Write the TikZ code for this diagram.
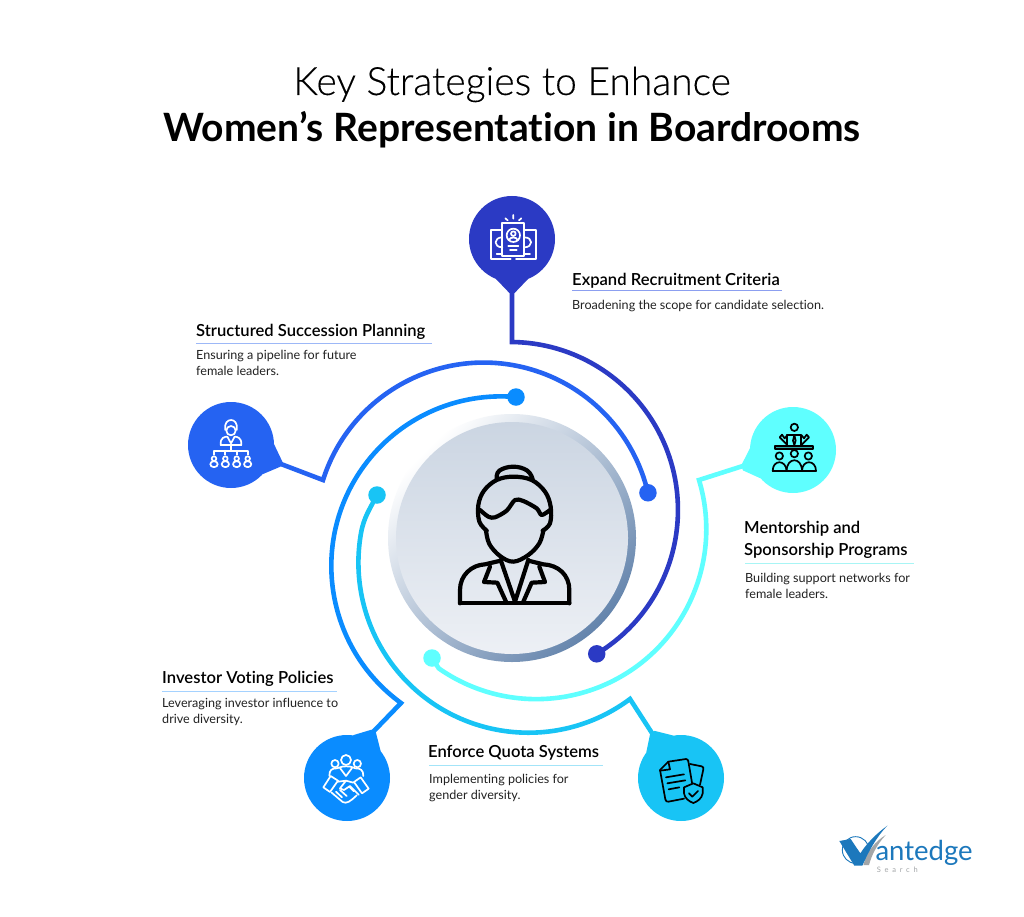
\documentclass[tikz,border=0pt]{standalone}
\usepackage{fontspec}
\setmainfont{Lato}[Ligatures=NoCommon]
\newfontfamily\titlelight{Lato Light}[Ligatures=NoCommon,FakeBold=0.25]
\newfontfamily\headfont{Lato Semibold}[Ligatures=NoCommon]
\usetikzlibrary{calc}
\definecolor{cA}{HTML}{2B3AC4}
\definecolor{cB}{HTML}{2563F2}
\definecolor{cC}{HTML}{0A8CFF}
\definecolor{cD}{HTML}{18C4F5}
\definecolor{cE}{HTML}{5FFFFF}
\definecolor{logoblue}{HTML}{1C78BC}
\definecolor{logogray}{HTML}{A3A6A8}
\definecolor{bodyink}{HTML}{222222}
\definecolor{ringdark}{HTML}{6484AC}
\definecolor{discTop}{HTML}{CBD5E2}
\definecolor{discBot}{HTML}{EDF0F5}
\definecolor{tealdark}{HTML}{2FA8A8}
\definecolor{ruleA}{HTML}{8C9FF0}
\definecolor{ruleB}{HTML}{9DB8F7}
\definecolor{ruleC}{HTML}{A5D2FF}
\definecolor{ruleD}{HTML}{A3E4F8}
\definecolor{ruleE}{HTML}{A8F5F5}
\tikzset{
 x=1pt,y=1pt,
 pinball/.style={circle,minimum size=86pt,inner sep=0pt,outer sep=0pt,fill=#1},
 dotball/.style={circle,minimum size=17.5pt,inner sep=0pt,outer sep=0pt,fill=#1},
 wire/.style={draw=#1,line width=4.6pt,line join=miter},
 headtext/.style={anchor=base west,inner sep=0pt,font=\headfont\fontsize{16.6}{18}\selectfont,text=black},
 bodytext/.style={anchor=base west,inner sep=0pt,font=\fontsize{12.6}{14}\selectfont,text=bodyink},
 headrule/.style={draw=#1,line width=1pt},
 ico/.style={draw=#1,line width=1.7pt,line cap=round,line join=round,fill=none},
 zoomframe/.style={x=0.33333pt,y=-0.33333pt},
}
\newcommand{\neckshape}[4]{\fill[#4,shift={(#1,-#2)},rotate=#3] (40,-16) -- (54,-2.6) -- (54,2.6) -- (40,16) -- cycle;}
\begin{document}
\begin{tikzpicture}
\useasboundingbox (0,0) rectangle (1024,-917);
\fill[white] (0,0) rectangle (1024,-917);
% titles
\node[anchor=base,inner sep=0pt,font=\titlelight\fontsize{39}{42}\selectfont] (t1) at (512,-95) {Key Strategies to Enhance};
\node[anchor=base,inner sep=0pt,font=\bfseries\fontsize{39}{42}\selectfont] (t2) at (512,-142) {Women’s Representation in Boardrooms};
% pins
\node[pinball=cA] (pA) at (512,-239) {};
\node[pinball=cB] (pB) at (231,-445) {};
\node[pinball=cE] (pE) at (793,-450) {};
\node[pinball=cC] (pC) at (347,-778) {};
\node[pinball=cD] (pD) at (681,-778) {};
\neckshape{512}{239}{-90}{cA}
\neckshape{231}{445}{-20.8}{cB}
\neckshape{793}{450}{-160.6}{cE}
\neckshape{347}{778}{60.5}{cC}
\neckshape{681}{778}{122}{cD}
% centre disc
\node[circle,minimum size=248pt,inner sep=0pt,outer sep=0pt,shade,top color=white,bottom color=ringdark,shading angle=45] (ring) at (512,-538) {};
\node[circle,minimum size=232pt,inner sep=0pt,outer sep=0pt,shade,top color=discTop,bottom color=discBot] (disc) at (512,-538) {};
% elbows
\coordinate (eA) at (512,-342);
\coordinate (eB) at (323,-480);
\coordinate (eC) at (401,-703);
\coordinate (tC) at (373,-732);
\coordinate (eD) at (630,-699);
\coordinate (eE) at (699,-480);
\coordinate (dD) at (377,-495);
\coordinate (dE) at (432,-658);
% connectors
\draw[wire=cA] (pA.center) -- (eA) arc[start angle=89.3,end angle=-58.9,radius=168] coordinate (dA);
\draw[wire=cB] (pB.center) -- (eB) arc[start angle=162.3,end angle=13.2,radius=168.7] coordinate (dB);
\draw[wire=cC] (pC.center) -- (tC) -- (eC) arc[start angle=233.9,end angle=84.9,radius=169.6] coordinate (dC);
\draw[wire=cD] (pD.center) -- (eD) arc[start angle=-53.3,end angle=-190,radius=170] to[out=80,in=243] (dD);
\draw[wire=cE] (pE.center) -- (eE) arc[start angle=16.8,end angle=-125,radius=170] -- (dE);
\node[dotball=cA] (nA) at (dA) {};
\node[dotball=cB] (nB) at (dB) {};
\node[dotball=cC] (nC) at (dC) {};
\node[dotball=cD] (nD) at (dD) {};
\node[dotball=cE] (nE) at (dE) {};
% labels
\node[headtext] (hA) at (572,-285) {Expand Recruitment Criteria};
\draw[headrule=ruleA] (572,-290.5) -- (782,-290.5);
\node[bodytext] (bA) at (572,-309.5) {Broadening the scope for candidate selection.};
\node[headtext] (hB) at (196,-336) {Structured Succession Planning};
\draw[headrule=ruleB] (196,-343.5) -- (432,-343.5);
\node[bodytext] (bB1) at (196,-359) {Ensuring a pipeline for future};
\node[bodytext] (bB2) at (196,-375) {female leaders.};
\node[headtext] (hE1) at (744,-533) {Mentorship and};
\node[headtext] (hE2) at (744,-555) {Sponsorship Programs};
\draw[headrule=ruleE] (745,-563.5) -- (914,-563.5);
\node[bodytext] (bE1) at (745,-582.5) {Building support networks for};
\node[bodytext] (bE2) at (745,-598.5) {female leaders.};
\node[headtext] (hC) at (162,-683) {Investor Voting Policies};
\draw[headrule=ruleC] (162,-691.5) -- (337,-691.5);
\node[bodytext] (bC1) at (162,-707.5) {Leveraging investor influence to};
\node[bodytext] (bC2) at (162,-723.5) {drive diversity.};
\node[headtext] (hD) at (428,-757) {Enforce Quota Systems};
\draw[headrule=ruleD] (429,-765.5) -- (603,-765.5);
\node[bodytext] (bD1) at (429,-783.5) {Implementing policies for};
\node[bodytext] (bD2) at (429,-799.5) {gender diversity.};
% central person
\begin{scope}[shift={(380,-400)},zoomframe,line width=4.2pt,line cap=round,line join=round]
\draw plot[smooth,tension=0.6] coordinates {(320,392)(298,365)(295,315)(312,272)(350,240)(400,230)(455,240)(495,275)(512,320)(510,370)(488,392)};
\draw plot[smooth,tension=0.7] coordinates {(350,236)(358,212)(400,200)(442,212)(458,238)};
\draw plot[smooth,tension=0.5] coordinates {(300,330)(325,350)(345,352)(380,332)(405,300)(430,303)(470,325)(485,345)(510,330)};
\draw plot[smooth,tension=0.6] coordinates {(318,392)(328,432)(360,468)(400,485)(445,465)(478,430)(490,392)};
\draw (240,610) -- (240,570) .. controls (240,525) and (275,495) .. (315,493) -- (362,482);
\draw (568,610) -- (568,570) .. controls (568,525) and (535,495) .. (490,493) -- (445,482);
\draw (240,610) -- (568,610);
\draw (330,500) -- (312,546) -- (352,548) -- (378,605);
\draw (478,500) -- (495,546) -- (455,548) -- (430,605);
\draw (362,480) -- (405,605) -- (445,480);
\end{scope}
% icon: recruitment
\begin{scope}[shift={(380,-180)},zoomframe]
\draw[ico=white] (367,130) -- (433,130) -- (433,228) -- (367,228) -- cycle;
\draw[ico=white] (367,150) -- (333,150) -- (333,238) -- (392,238);
\draw[ico=white] (433,150) -- (468,150) -- (468,238) -- (408,238);
\draw[ico=white] (400,166) circle[radius=20];
\draw[ico=white] (400,161) circle[radius=7];
\draw[ico=white] (387,180) .. controls (390,170) and (410,170) .. (413,180);
\draw[ico=white] (385,198) -- (415,198) (390,210) -- (410,210);
\draw[ico=white] (367,172) .. controls (340,172) and (340,202) .. (367,202);
\draw[ico=white] (433,172) .. controls (460,172) and (460,202) .. (433,202);
\draw[ico=white] (350,222) -- (367,222) (433,222) -- (450,222);
\draw[ico=white] (400,105) -- (400,116) (376,115) -- (383,121) (424,115) -- (417,121);
\end{scope}
% icon: succession
\begin{scope}[shift={(170,-380)},zoomframe]
\draw[ico=white] (166,150) .. controls (158,110) and (208,110) .. (200,150);
\draw[ico=white] (183,152) circle[radius=14];
\draw[ico=white] (152,195) .. controls (150,172) and (165,170) .. (172,170);
\draw[ico=white] (214,195) .. controls (216,172) and (200,170) .. (194,170);
\draw[ico=white] (152,195) -- (214,195);
\draw[ico=white] (172,170) -- (183,190) -- (194,170);
\draw[ico=white] (183,195) -- (183,212) (132,224) -- (132,212) -- (233,212) -- (233,224) (166,212) -- (166,224) (200,212) -- (200,224);
\foreach \px in {132,166,200,233}{
 \draw[ico=white] (\px,236) circle[radius=7];
 \draw[ico=white,rounded corners=3pt] (\px-11,261) -- (\px-11,244) -- (\px+11,244) -- (\px+11,261) -- cycle;
}
\end{scope}
% icon: mentorship
\begin{scope}[shift={(680,-390)},zoomframe]
\fill[tealdark] (286,168) rectangle (400,178);
\draw[ico=black] (286,168) rectangle (400,178);
\draw[ico=black] (343,112) circle[radius=11];
\draw[ico=black] (322,165) -- (322,135) -- (364,135) -- (364,165);
\draw[ico=black] (322,135) -- (314,145) -- (306,134) -- (299,142) -- (322,165);
\draw[ico=black] (364,135) -- (372,145) -- (380,134) -- (387,142) -- (364,165);
\draw[ico=black] (343,135) -- (339,152) -- (343,165) -- (347,152) -- cycle;
\foreach \ax/\ay in {298/198,385/198,343/191}{
 \draw[ico=black] (\ax,\ay) circle[radius=11];
}
\draw[ico=black] (278,243) .. controls (278,208) and (318,208) .. (320,243);
\draw[ico=black] (366,243) .. controls (366,208) and (408,208) .. (408,243);
\draw[ico=black] (320,243) .. controls (320,200) and (366,200) .. (366,243);
\draw[ico=black] (278,243) -- (408,243);
\end{scope}
% icon: investor
\begin{scope}[shift={(290,-690)},zoomframe]
\draw[ico=white] (135,221) circle[radius=11];
\draw[ico=white] (202,221) circle[radius=11];
\draw[ico=white] (168,210) circle[radius=15];
\draw[ico=white] (118,258) .. controls (118,240) and (125,235) .. (140,235) -- (150,232) .. controls (155,228) and (182,228) .. (188,232) -- (196,235) .. controls (212,235) and (220,240) .. (220,258);
\draw[ico=white] (150,234) -- (168,258) -- (186,234);
\draw[ico=white] (100,292) -- (122,258) -- (144,272) -- (120,306) -- cycle;
\draw[ico=white] (236,296) -- (212,262) -- (192,276) -- (216,310) -- cycle;
\draw[ico=white] (144,275) -- (168,272) -- (190,278);
\draw[ico=white] (168,272) -- (150,295) -- (162,300) -- (180,288) -- (206,314);
\draw[ico=white] (125,308) -- (158,336) .. controls (170,342) and (180,335) .. (200,316);
\draw[ico=white] (138,305) -- (156,322) (150,300) -- (170,318) (178,290) -- (192,304);
\end{scope}
% icon: quota
\begin{scope}[shift={(610,-690)},zoomframe]
\draw[ico=black] (175,215) -- (228,207) .. controls (232,207) and (234,210) .. (235,214) -- (246,278);
\draw[ico=black] (175,215) -- (150,240) -- (166,328) .. controls (167,333) and (170,336) .. (175,335) -- (222,326);
\draw[ico=black] (175,215) -- (180,238) -- (150,242);
\draw[ico=black] (168,262) -- (222,253) (172,280) -- (226,271) (176,298) -- (208,292);
\draw[ico=black] (240,222) -- (275,229) .. controls (280,230) and (281,234) .. (280,238) -- (270,284);
\draw[ico=black] (250,280) -- (278,292) -- (278,310) .. controls (276,325) and (262,335) .. (250,339) .. controls (238,335) and (224,325) .. (222,310) -- (222,292) -- cycle;
\draw[ico=black] (237,310) -- (247,320) -- (264,303);
\end{scope}
% logo
\begin{scope}[shift={(820,-810)},zoomframe]
\draw[logoblue,line width=0.9pt] (107,120) circle[radius=40];
\fill[logogray] (130,165) .. controls (140,125) and (165,95) .. (197,75) .. controls (170,105) and (155,135) .. (147,165) -- cycle;
\fill[logoblue] (58,93) -- (92,87) -- (121,130) .. controls (140,100) and (170,70) .. (202,47) .. controls (170,80) and (145,125) .. (127,167) -- (103,167) -- cycle;
\node[anchor=base west,inner sep=0pt,text=logoblue,font=\fontsize{27.5}{28}\selectfont] (logoname) at (166,150) {antedge};
\node[anchor=base west,inner sep=0pt,text=logogray,font=\addfontfeatures{LetterSpace=50}\fontsize{7.5}{9}\selectfont] (logosub) at (170,186) {Search};
\end{scope}
\end{tikzpicture}
\end{document}
